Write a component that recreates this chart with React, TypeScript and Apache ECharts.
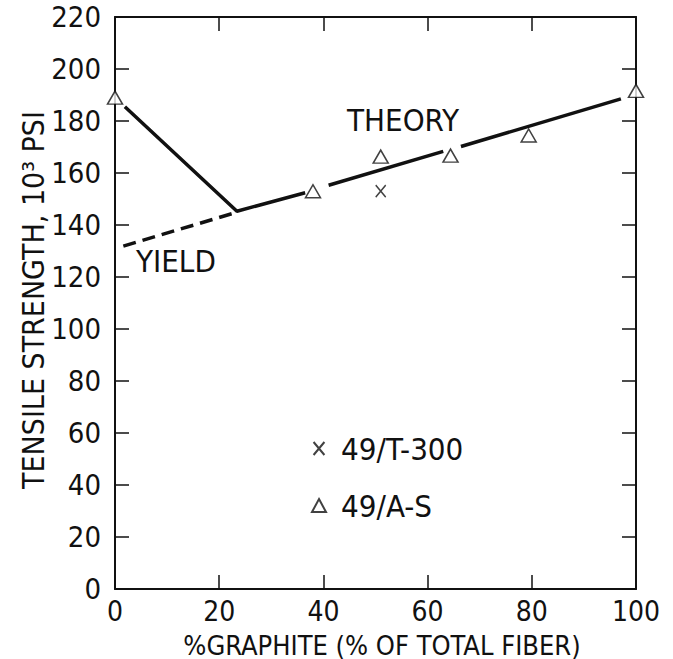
import React, { useEffect, useRef } from "react";
import * as echarts from "echarts";

const xTicks = [0, 20, 40, 60, 80, 100];
const yTicks = [0, 20, 40, 60, 80, 100, 120, 140, 160, 180, 200, 220];

// 49/A-S triangles
const asData: [number, number][] = [
  [0, 189],
  [38, 153],
  [51, 166.3],
  [64.4, 166.7],
  [79.4, 174.4],
  [100, 191.6],
];
// 49/T-300 crosses
const t300Data: [number, number][] = [[51, 153]];

// Theory (solid) line, drawn as visible segments
const theorySegments: [number, number][][] = [
  [
    [1.9, 185.5],
    [23.4, 145.3],
    [36.5, 152.4],
  ],
  [
    [41, 155.3],
    [63, 168.3],
  ],
  [
    [66.4, 170.2],
    [97.1, 188.5],
  ],
];
// Yield (dashed) line
const yieldLine: [number, number][] = [
  [1.6, 131.9],
  [22.7, 144.5],
];

const FONT = '"DejaVu Sans Condensed", "DejaVu Sans", sans-serif';
const INK = "#111";
const CROSS = "path://M0,0L10,12M10,0L0,12";

export default function App() {
  const ref = useRef<HTMLDivElement>(null);
  useEffect(() => {
    if (!ref.current) return;
    const chart = echarts.init(ref.current, undefined, { renderer: "svg" });
    const axisCommon = {
      type: "value" as const,
      axisLine: { show: true, onZero: false, lineStyle: { color: INK, width: 2 } },
      axisTick: { show: true, inside: true, length: 14, lineStyle: { color: INK, width: 1.5 } },
      splitLine: { show: false },
    };
    const series: any[] = [];
    theorySegments.forEach((seg, i) => {
      series.push({
        type: "line",
        name: "theory" + i,
        data: seg,
        symbol: "none",
        lineStyle: { color: INK, width: 3.5 },
        z: 3,
      });
    });
    series.push({
      type: "line",
      name: "yield",
      data: yieldLine,
      symbol: "none",
      lineStyle: { color: INK, width: 3.5, type: [13, 7] },
      z: 3,
    });
    series.push({
      type: "scatter",
      name: "49/T-300",
      data: t300Data,
      symbol: CROSS,
      symbolSize: [10, 12],
      itemStyle: { color: "transparent", borderColor: INK, borderWidth: 1.5 },
      z: 4,
    });
    series.push({
      type: "scatter",
      name: "49/A-S",
      data: asData,
      symbol: "triangle",
      symbolSize: [15, 13],
      itemStyle: { color: "#fff", borderColor: INK, borderWidth: 1.5 },
      z: 5,
    });

    chart.setOption({
      animation: false,
      backgroundColor: "#fff",
      grid: { left: 115, right: 37, top: 17, bottom: 70 },
      legend: {
        data: ["49/T-300", "49/A-S"],
        orient: "vertical",
        left: 306,
        top: 428,
        itemGap: 26,
        itemWidth: 14,
        itemHeight: 13,
        textStyle: { fontFamily: FONT, fontSize: 31, color: INK, padding: [0, 0, 0, 10] },
        selectedMode: false,
      },
      xAxis: [
        {
          ...axisCommon,
          min: 0,
          max: 100,
          interval: 20,
          position: "bottom",
          axisLabel: { fontFamily: FONT, fontSize: 28, color: INK, margin: 8 },
        },
        {
          ...axisCommon,
          min: 0,
          max: 100,
          interval: 20,
          position: "top",
          axisLabel: { show: false },
        },
      ],
      yAxis: [
        {
          ...axisCommon,
          min: 0,
          max: 220,
          interval: 20,
          position: "left",
          axisLabel: { fontFamily: FONT, fontSize: 29, color: INK, margin: 14 },
        },
        {
          ...axisCommon,
          min: 0,
          max: 220,
          interval: 20,
          position: "right",
          axisLabel: { show: false },
        },
      ],
      graphic: [
        {
          type: "text",
          x: 33,
          y: 300,
          rotation: Math.PI / 2,
          style: {
            text: "TENSILE STRENGTH, 10³ PSI",
            fontFamily: FONT,
            fontSize: 30,
            fill: INK,
            align: "center",
            verticalAlign: "middle",
          },
        },
        {
          type: "text",
          x: 382,
          y: 645,
          style: {
            text: "%GRAPHITE (% OF TOTAL FIBER)",
            fontFamily: FONT,
            fontSize: 27,
            fill: INK,
            align: "center",
            verticalAlign: "middle",
          },
        },
        {
          type: "text",
          left: 347,
          top: 104,
          style: { text: "THEORY", fontFamily: FONT, fontSize: 31, fill: INK },
        },
        {
          type: "text",
          left: 136,
          top: 245,
          style: { text: "YIELD", fontFamily: FONT, fontSize: 31, fill: INK },
        },
      ],
      series,
    });
    return () => chart.dispose();
  }, []);
  return <div ref={ref} style={{ width: 673, height: 659, position: "absolute", left: 0, top: 0 }} />;
}
